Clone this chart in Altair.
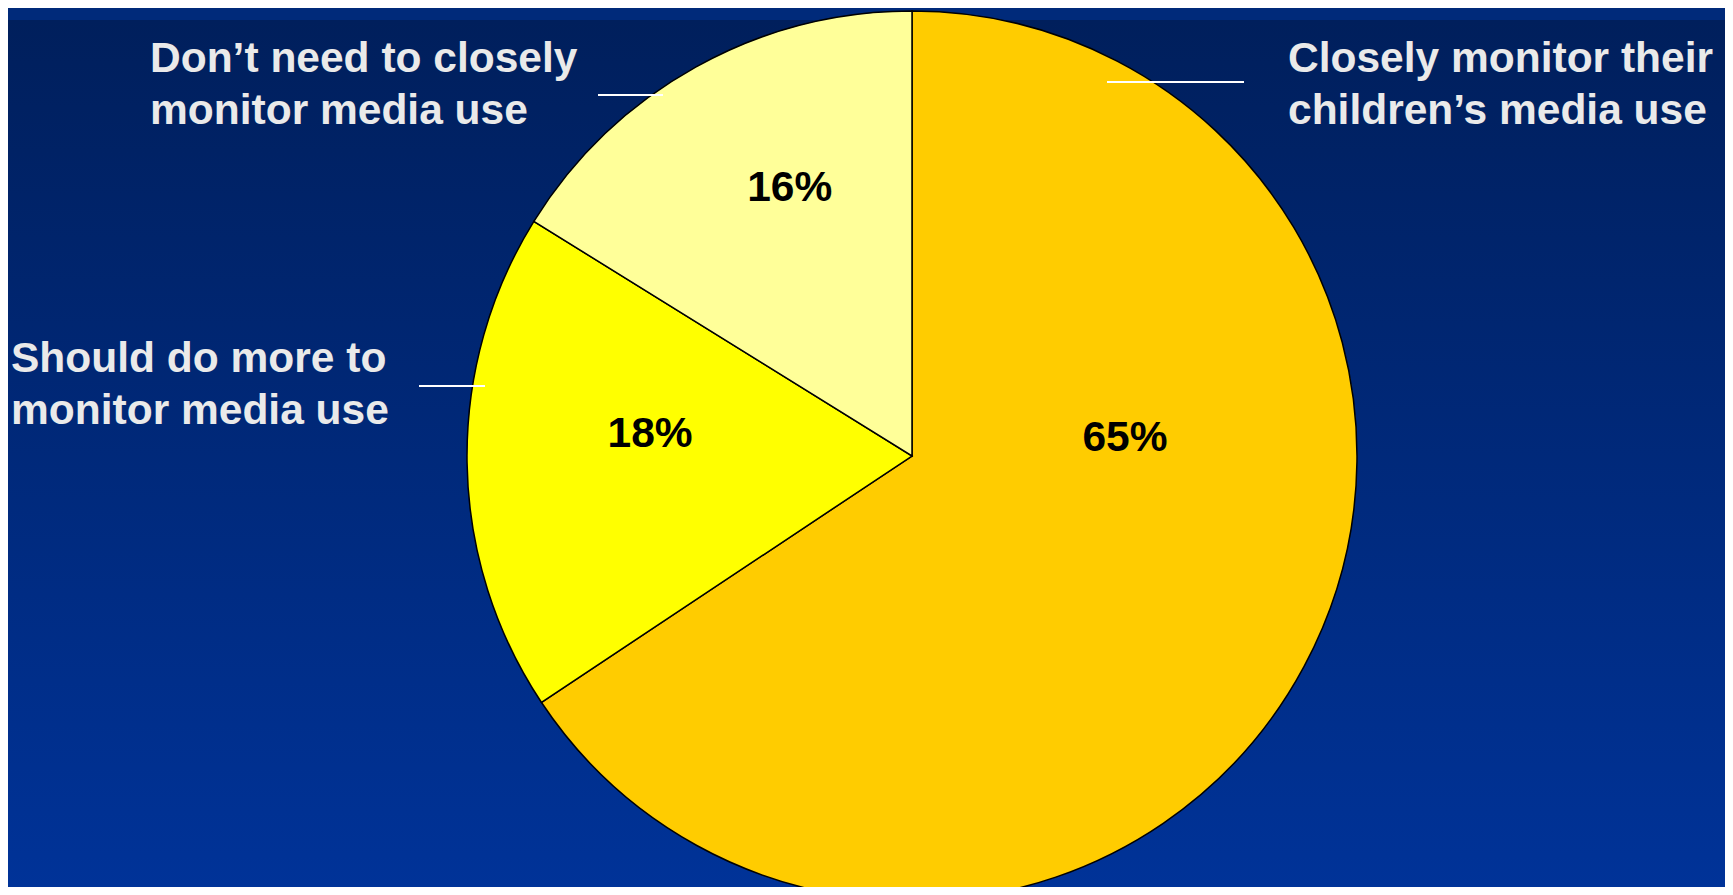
import altair as alt
import pandas as pd

# ---- data ----
categories = [
    "Closely monitor their\nchildren\u2019s media use",
    "Should do more to\nmonitor media use",
    "Don\u2019t need to closely\nmonitor media use",
]
values = [65, 18, 16]
pct_labels = ["65%", "18%", "16%"]
slice_colors = ["#FFCC00", "#FFFF00", "#FFFF99"]
slice_order = [0, 1, 2]

df = pd.DataFrame({
    "category": categories,
    "value": values,
    "pct": pct_labels,
    "order": slice_order,
})
total = float(sum(values))

W, H = 1717, 879
CX, CY, R = 904, 436, 445
FONT = "Liberation Sans"
FS = 42.5

theta_scale = alt.Scale(domain=[0, total])
color_scale = alt.Scale(domain=categories, range=slice_colors)

base = alt.Chart(df).transform_stack(
    stack="value", groupby=[], as_=["v0", "v1"], sort=[alt.SortField("order", order="ascending")]
).transform_calculate(mid="(datum.v0 + datum.v1) / 2")

# background gradient
bg = alt.Chart(pd.DataFrame({"bg": [0]})).mark_rect(
    color=alt.LinearGradient(
        gradient="linear",
        stops=[alt.GradientStop(color="#001F5C", offset=0),
               alt.GradientStop(color="#003399", offset=1)],
        x1=0, x2=0, y1=0, y2=1,
    )
).encode(x=alt.value(0), x2=alt.value(W), y=alt.value(0), y2=alt.value(H))

pie = base.mark_arc(radius=R, stroke="black", strokeWidth=1.5).encode(
    theta=alt.Theta("v0:Q", scale=theta_scale),
    theta2="v1:Q",
    color=alt.Color("category:N", scale=color_scale, legend=None),
    x=alt.value(CX),
    y=alt.value(CY),
)

layers = [bg, pie]

# percentage labels (nudged like the reference)
pct_offsets = {"65%": (-25, -146), "18%": (8, -26), "16%": (9, -32)}
for p in pct_labels:
    dx, dy = pct_offsets[p]
    layers.append(
        base.transform_filter(alt.datum.pct == p).mark_text(
            radius=270, dx=dx, dy=dy, font=FONT, fontWeight="bold", fontSize=FS,
            color="black", align="center", baseline="middle",
        ).encode(
            theta=alt.Theta("mid:Q", scale=theta_scale),
            text="pct:N",
            x=alt.value(CX),
            y=alt.value(CY),
        )
    )

# outside category labels with leader lines
label_pos = {
    categories[0]: dict(tx=1280, ty=52, lx1=1099, lx2=1236, ly=62),
    categories[1]: dict(tx=3, ty=352, lx1=411, lx2=477, ly=366),
    categories[2]: dict(tx=142, ty=52, lx1=590, lx2=655, ly=75),
}
for c in categories:
    p = label_pos[c]
    sub = alt.Chart(df).transform_filter(alt.datum.category == c)
    layers.append(
        sub.mark_text(
            align="left", baseline="alphabetic", lineBreak="\n", lineHeight=52,
            font=FONT, fontWeight="bold", fontSize=FS, color="#EAEAEA",
        ).encode(x=alt.value(p["tx"]), y=alt.value(p["ty"]), text="category:N")
    )
    layers.append(
        sub.mark_rule(color="white", strokeWidth=2).encode(
            x=alt.value(p["lx1"]), x2=alt.value(p["lx2"]), y=alt.value(p["ly"])
        )
    )

chart = alt.layer(*layers).properties(
    width=W, height=H,
    autosize=alt.AutoSizeParams(type="fit", contains="padding"),
    padding=0,
    background="#002A7A",
).configure_view(stroke=None)

chart.save("out.html", embed_options={"renderer": "svg", "actions": False})
